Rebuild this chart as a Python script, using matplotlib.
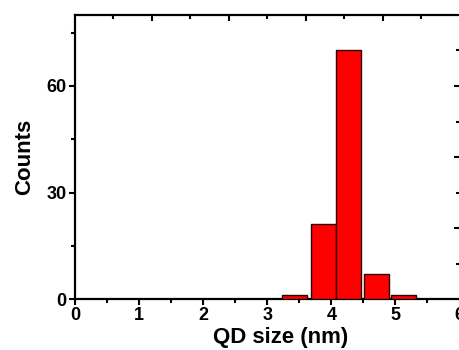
import numpy as np
import matplotlib
matplotlib.use('Agg')
import matplotlib.pyplot as plt

plt.rcParams['font.family'] = ['Liberation Sans', 'DejaVu Sans']
plt.rcParams['font.weight'] = 'bold'

# QD size histogram
size_nm = [3.42, 3.88, 4.27, 4.70, 5.12]
counts = [1, 21, 70, 7, 1]
x_ticks = [0, 1, 2, 3, 4, 5, 6]
y_ticks = [0, 30, 60]

fig = plt.figure(figsize=(4.6, 3.5), dpi=100)
ax = fig.add_axes([75/460, 51/350, 384.5/460, 284/350])

ax.bar(size_nm, counts, width=0.39, color='#ff0000', edgecolor='#2a0000', linewidth=1.0, zorder=3)

ax.set_xlim(0, 6)
ax.set_ylim(0, 80)
ax.set_xticks(x_ticks)
ax.set_yticks(y_ticks)
ax.set_xticks(np.arange(0.5, 6, 1), minor=True)
ax.set_yticks([15, 45, 75], minor=True)
ax.tick_params(which='both', direction='out', width=1.5, labelsize=13, pad=1.5)
ax.tick_params(which='major', length=4.5)
ax.tick_params(which='minor', length=3)
for lab in ax.get_xticklabels() + ax.get_yticklabels():
    lab.set_fontweight('bold')
for s in ax.spines.values():
    s.set_linewidth(1.6)
ax.spines['right'].set_color('#888888')
ax.spines['right'].set_linewidth(1.0)

# top and right helper axes, inward ticks only
top = ax.twiny()
top.set_xlim(0, 10)
top.set_xticks([2, 4, 6, 8])
top.set_xticks([1, 3, 5, 7, 9], minor=True)
top.tick_params(which='both', direction='in', width=1.5, labeltop=False)
top.tick_params(which='major', length=4.5)
top.tick_params(which='minor', length=3)
right = ax.twinx()
right.set_ylim(0, 80)
right.set_yticks([20, 40, 60])
right.set_yticks([10, 30, 50, 70], minor=True)
right.tick_params(which='both', direction='in', width=1.5, labelright=False)
right.tick_params(which='major', length=4.5)
right.tick_params(which='minor', length=3)
for a in (top, right):
    for s in a.spines.values():
        s.set_visible(False)

ax.set_xlabel('QD size (nm)', fontsize=16, fontweight='bold')
ax.set_ylabel('Counts', fontsize=16, fontweight='bold')
ax.xaxis.set_label_coords(0.535, -0.1)
ax.yaxis.set_label_coords(-0.105, 0.5)

fig.savefig('out.png', dpi=100)
